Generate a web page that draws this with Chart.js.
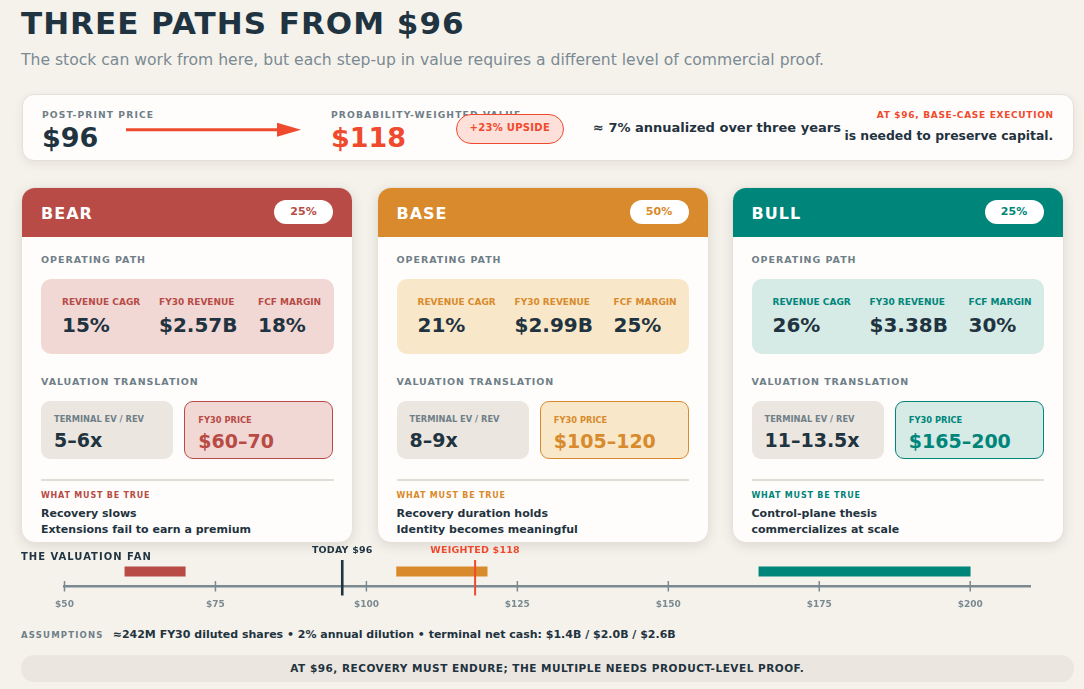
<!DOCTYPE html>
<html>
<head>
<meta charset="utf-8">
<script src="https://cdn.jsdelivr.net/npm/chart.js@4.4.1/dist/chart.umd.min.js"></script>
<style>
  html, body { margin: 0; padding: 0; }
  body { width: 1084px; height: 689px; background: #f5f2ec; font-family: "DejaVu Sans", sans-serif; color: #1f3340; position: relative; overflow: hidden; }
  .t { position: absolute; line-height: 1; white-space: nowrap; font-weight: bold; }
  .cap { font-size: 9.2px; letter-spacing: 1.1px; color: #6f7f88; }
  #panel { position: absolute; left: 22px; top: 94px; width: 1050px; height: 65px; background: #fffdfb; border: 1px solid #e4dfd7; border-radius: 12px; box-shadow: 0 3px 10px rgba(60,50,30,0.08); }
  .card { position: absolute; top: 187.3px; width: 332px; height: 356px; background: #fffdfb; border-radius: 14px; overflow: hidden; box-shadow: 0 3px 12px rgba(60,50,30,0.13); border: 1px solid #e6e1d9; box-sizing: border-box; }
  .card .head { position: absolute; left: 0; top: 0; width: 100%; height: 48.4px; }
  .card .name { position: absolute; left: 19px; top: 18.2px; font-size: 16px; line-height: 1; font-weight: bold; letter-spacing: 1px; color: #fff; }
  .card .pill { position: absolute; left: 252px; top: 11.7px; width: 59px; height: 24px; border-radius: 12px; background: #fff; font-size: 11px; font-weight: bold; text-align: center; line-height: 24px; }
  .card .sec { position: absolute; left: 19px; font-size: 9.5px; line-height: 1; font-weight: bold; letter-spacing: 0.95px; color: #6f7f88; white-space: nowrap; }
  .card .op { position: absolute; left: 19px; top: 90.7px; width: 292.6px; height: 74.7px; border-radius: 10px; box-sizing: border-box; padding: 18.6px 0 0 21px; display: grid; grid-template-columns: 97px 99px 1fr; }
  .card .lab { font-size: 9px; line-height: 1; font-weight: bold; white-space: nowrap; }
  .card .op .val { font-size: 20px; line-height: 1; font-weight: bold; margin-top: 8.2px; color: #1f3340; white-space: nowrap; }
  .card .vb { position: absolute; top: 212.7px; height: 57.7px; border-radius: 9px; box-sizing: border-box; padding: 14px 0 0 13px; }
  .card .vb .lab { font-size: 8.3px; }
  .card .vb .val { font-size: 19px; line-height: 1; font-weight: bold; margin-top: 7.9px; white-space: nowrap; }
  .card .rule { position: absolute; left: 19px; top: 290.7px; width: 292.6px; height: 2px; background: #e2ded7; }
  .card .wm { position: absolute; left: 19px; top: 303.9px; font-size: 8px; line-height: 1; font-weight: bold; letter-spacing: 0.8px; white-space: nowrap; }
  .card .truth { position: absolute; left: 19px; top: 317.6px; font-size: 11px; line-height: 16.3px; font-weight: bold; color: #1f3340; white-space: nowrap; }
  #fanWrap { position: absolute; left: 0; top: 540px; width: 1084px; height: 80px; }
  #foot { position: absolute; left: 21px; top: 655.3px; width: 1052.5px; height: 26.4px; border-radius: 13.2px; background: #ebe6df; text-align: center; line-height: 26.4px; font-size: 10.5px; font-weight: bold; letter-spacing: 0.5px; color: #1f3340; }
</style>
</head>
<body>
<div class="t" style="left:21px; top:8px; font-size:31px; letter-spacing:1px;">THREE PATHS FROM $96</div>
<div class="t" style="left:21px; top:52.5px; font-size:15.6px; font-weight:normal; color:#7b8a92;">The stock can work from here, but each step-up in value requires a different level of commercial proof.</div>

<div id="panel"></div>
<div class="t cap" style="left:42px; top:110.3px;">POST-PRINT PRICE</div>
<div class="t" style="left:42px; top:123.5px; font-size:27px;">$96</div>
<svg style="position:absolute; left:126px; top:122px;" width="176" height="16">
  <line x1="0" y1="7.7" x2="153" y2="7.7" stroke="#f04a2e" stroke-width="3"/>
  <polygon points="151,0.7 175,7.7 151,14.7" fill="#f04a2e"/>
</svg>
<div class="t cap" style="left:331px; top:110.3px;">PROBABILITY-WEIGHTED VALUE</div>
<div class="t" style="left:331px; top:123.5px; font-size:27px; color:#f04a2e;">$118</div>
<div class="t" style="left:456px; top:114.3px; width:107.6px; height:29.4px; box-sizing:border-box; border:1.5px solid #f04a2e; border-radius:15px; background:#fde0da; color:#f04a2e; font-size:10px; letter-spacing:0.3px; text-align:center; line-height:26.4px;">+23% UPSIDE</div>
<div class="t" style="left:593px; top:121px; font-size:13px;">≈ 7% annualized over three years</div>
<div class="t" style="right:30.2px; top:111.4px; font-size:9px; letter-spacing:0.7px; color:#f04a2e;">AT $96, BASE-CASE EXECUTION</div>
<div class="t" style="right:30.7px; top:129.8px; font-size:12.4px;">is needed to preserve capital.</div>

<div id="cards"></div>

<div id="fanWrap"><canvas id="fan"></canvas></div>
<div class="t" style="left:21px; top:551.5px; font-size:10px; letter-spacing:1px;">THE VALUATION FAN</div>

<div class="t" style="left:21px; top:630.8px; font-size:8.5px; letter-spacing:1.2px; color:#6f7f88;">ASSUMPTIONS</div>
<div class="t" style="left:112.7px; top:629px; font-size:11px;">≈242M FY30 diluted shares • 2% annual dilution • terminal net cash: $1.4B / $2.0B / $2.6B</div>

<div id="foot">AT $96, RECOVERY MUST ENDURE; THE MULTIPLE NEEDS PRODUCT-LEVEL PROOF.</div>

<script>
// scenario data
const SCENARIOS = [`BEAR`, `BASE`, `BULL`];
const PROBABILITIES = [`25%`, `50%`, `25%`];
const REVENUE_CAGR = [`15%`, `21%`, `26%`];
const FY30_REVENUE = [`$2.57B`, `$2.99B`, `$3.38B`];
const FCF_MARGIN = [`18%`, `25%`, `30%`];
const EV_REV = [`5–6x`, `8–9x`, `11–13.5x`];
const PRICE_LOW = [60, 105, 165];
const PRICE_HIGH = [70, 120, 200];
const TRUTHS = [
	[`Recovery slows`, `Extensions fail to earn a premium`],
	[`Recovery duration holds`, `Identity becomes meaningful`],
	[`Control-plane thesis`, `commercializes at scale`],
];

// fan axis + markers
const TICK_VALUES = [50, 75, 100, 125, 150, 175, 200];
const AXIS_MIN = 50;
const AXIS_MAX = 210;
const MARKER_LABELS = [`TODAY $96`, `WEIGHTED $118`];
const MARKER_VALUES = [96, 118];

const COLORS = [`#b84b45`, `#d98a2c`, `#00857a`];
const TINTS = [`#f2d8d5`, `#f8e8c9`, `#d6eae6`];
const CARD_LEFT = [21, 376.5, 731.5];
const MARKER_COLORS = [`#1f3340`, `#f04a2e`];
const AXIS_GRAY = `#7b8a91`;

let cardsHtml = ``;
SCENARIOS.forEach((name, i) =>
{
	let c = COLORS[i], tint = TINTS[i];
	cardsHtml += `
	<div class="card" style="left:${CARD_LEFT[i]}px;">
		<div class="head" style="background:${c};"></div>
		<div class="name">${name}</div>
		<div class="pill" style="color:${c};">${PROBABILITIES[i]}</div>
		<div class="sec" style="top:66.5px;">OPERATING PATH</div>
		<div class="op" style="background:${tint};">
			<div><div class="lab" style="color:${c};">REVENUE CAGR</div><div class="val">${REVENUE_CAGR[i]}</div></div>
			<div><div class="lab" style="color:${c};">FY30 REVENUE</div><div class="val">${FY30_REVENUE[i]}</div></div>
			<div><div class="lab" style="color:${c};">FCF MARGIN</div><div class="val">${FCF_MARGIN[i]}</div></div>
		</div>
		<div class="sec" style="top:188.3px;">VALUATION TRANSLATION</div>
		<div class="vb" style="left:19px; width:132.3px; background:#ebe6df;">
			<div class="lab" style="color:#6f7f88;">TERMINAL EV / REV</div>
			<div class="val" style="color:#1f3340;">${EV_REV[i]}</div>
		</div>
		<div class="vb" style="left:162.3px; width:149px; background:${tint}; border:1.3px solid ${c};">
			<div class="lab" style="color:${c};">FY30 PRICE</div>
			<div class="val" style="color:${c};">$${PRICE_LOW[i]}–${PRICE_HIGH[i]}</div>
		</div>
		<div class="rule"></div>
		<div class="wm" style="color:${c};">WHAT MUST BE TRUE</div>
		<div class="truth">${TRUTHS[i].join(`<br>`)}</div>
	</div>`;
});
document.getElementById(`cards`).innerHTML = cardsHtml;

// tick marks that straddle the axis line
const axisTicks = {
	id: `axisTicks`,
	afterDraw(chart)
	{
		let ctx = chart.ctx, xs = chart.scales.x;
		ctx.save();
		ctx.strokeStyle = AXIS_GRAY;
		ctx.lineWidth = 1.5;
		for (let v of TICK_VALUES)
		{
			let x = xs.getPixelForValue(v);
			ctx.beginPath();
			ctx.moveTo(x, xs.top - 5);
			ctx.lineTo(x, xs.top + 5.5);
			ctx.stroke();
		}
		ctx.restore();
	},
};

// today / weighted reference lines
const markers = {
	id: `markers`,
	afterDraw(chart)
	{
		let ctx = chart.ctx, xs = chart.scales.x, area = chart.chartArea;
		ctx.save();
		MARKER_VALUES.forEach((v, i) =>
		{
			let x = xs.getPixelForValue(v);
			ctx.strokeStyle = MARKER_COLORS[i];
			ctx.lineWidth = i == 0 ? 2.6 : 2;
			ctx.beginPath();
			ctx.moveTo(x, area.top + 3);
			ctx.lineTo(x, xs.top + 9.5);
			ctx.stroke();
			ctx.fillStyle = MARKER_COLORS[i];
			ctx.font = `bold 9.5px "DejaVu Sans"`;
			ctx.letterSpacing = `0.2px`;
			ctx.textAlign = `center`;
			ctx.textBaseline = `alphabetic`;
			ctx.fillText(MARKER_LABELS[i], x, area.top - 4);
		});
		ctx.restore();
	},
};

let fanChart = new Chart(document.getElementById(`fan`).getContext(`2d`),
{
	type: `bar`,
	data: {
		labels: [`fan`],
		datasets: SCENARIOS.map((name, i) => ({
			label: name,
			data: [[PRICE_LOW[i], PRICE_HIGH[i]]],
			backgroundColor: COLORS[i],
			borderWidth: 0,
			barThickness: 9.5,
			grouped: false,
		})),
	},
	options: {
		indexAxis: `y`,
		responsive: true,
		maintainAspectRatio: false,
		animation: false,
		layout: { padding: { left: 64.5, right: 53.4, top: 17, bottom: 5 } },
		scales: {
			x: {
				type: `linear`,
				min: AXIS_MIN,
				max: AXIS_MAX,
				afterBuildTicks: (axis) => { axis.ticks = TICK_VALUES.map((v) => ({ value: v })); },
				grid: { display: false, drawTicks: false },
				border: { display: true, color: AXIS_GRAY, width: 2.6 },
				ticks: {
					padding: 13,
					color: AXIS_GRAY,
					font: { family: `DejaVu Sans`, size: 9, weight: `bold` },
					callback: (v) => `$` + v,
					maxRotation: 0,
					autoSkip: false,
				},
			},
			y: { display: false },
		},
		plugins: {
			legend: { display: false },
			tooltip: { enabled: false },
		},
	},
	plugins: [axisTicks, markers],
});
</script>
</body>
</html>
